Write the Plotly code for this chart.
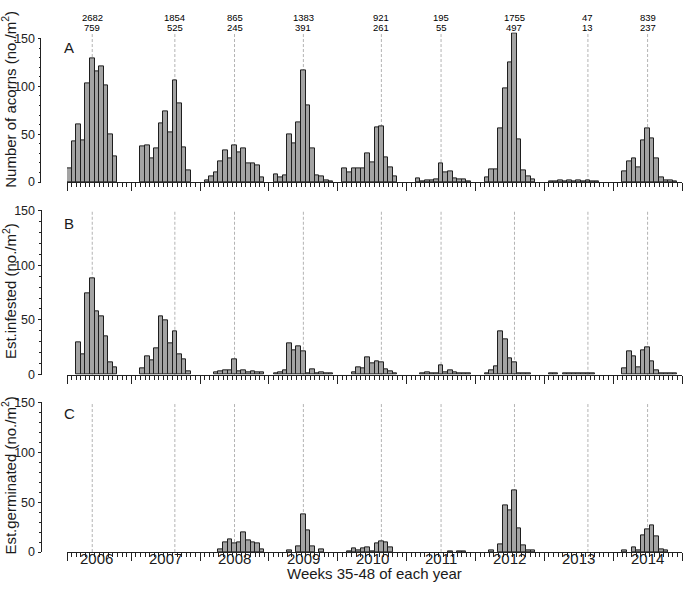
import plotly.graph_objects as go

W, H = 685, 590
FONT = "Arial, Liberation Sans, sans-serif"

YEARS = [2006, 2007, 2008, 2009, 2010, 2011, 2012, 2013, 2014]
WEEKS = list(range(35, 49))  # weeks 35-48

# acorns per m2, one row per year, weeks 35..48
ACORNS = [
    [14, 43, 60, 44, 103, 129, 116, 121, 101, 50, 27, 0, 0, 0],   # 2006
    [0, 37, 38, 25, 35, 61, 74, 52, 106, 82, 36, 12, 0, 0],       # 2007
    [2, 6, 10, 22, 33, 25, 38, 31, 35, 20, 19, 17, 5, 0],         # 2008
    [8, 5, 7, 50, 40, 62, 117, 80, 35, 7, 6, 2, 1, 0],            # 2009
    [14, 10, 14, 14, 14, 30, 21, 57, 58, 26, 15, 6, 0, 0],        # 2010
    [0, 4, 1, 2, 2, 3, 19, 10, 11, 4, 3, 3, 1, 0],                # 2011
    [0, 5, 13, 13, 56, 98, 125, 155, 45, 12, 6, 3, 0, 0],         # 2012
    [1, 1, 2, 1, 2, 1, 2, 1, 2, 1, 1, 0, 0, 0],                   # 2013
    [0, 11, 22, 25, 15, 44, 56, 46, 25, 5, 2, 2, 1, 0],           # 2014
]
INFESTED = [
    [0, 0, 30, 19, 74, 88, 58, 53, 35, 11, 7, 0, 0, 0],
    [0, 6, 17, 13, 24, 53, 50, 29, 40, 19, 14, 3, 0, 0],
    [0, 0, 2, 3, 4, 4, 14, 3, 4, 2, 3, 2, 2, 0],
    [1, 2, 4, 29, 22, 26, 21, 1, 5, 1, 2, 1, 1, 0],
    [0, 0, 2, 7, 6, 16, 10, 12, 11, 5, 3, 1, 0, 0],
    [0, 0, 1, 2, 1, 1, 9, 2, 4, 2, 1, 1, 1, 0],
    [0, 1, 4, 8, 40, 32, 15, 11, 1, 1, 1, 0, 0, 0],
    [1, 1, 0, 1, 1, 1, 1, 1, 1, 1, 0, 0, 0, 0],
    [0, 6, 21, 17, 7, 22, 25, 12, 4, 1, 1, 1, 1, 0],
]
GERMINATED = [
    [0, 0, 0, 0, 0, 0, 0, 0, 0, 0, 0, 0, 0, 0],
    [0, 0, 0, 0, 0, 0, 0, 0, 0, 0, 0, 0, 0, 0],
    [0, 0, 0, 3, 10, 13, 9, 10, 20, 12, 10, 9, 3, 0],
    [0, 0, 0, 2, 0, 6, 38, 22, 6, 0, 3, 0, 0, 0],
    [0, 1, 4, 2, 4, 5, 1, 9, 11, 10, 5, 0, 0, 0],
    [0, 0, 0, 0, 0, 0, 0, 0, 0.5, 0, 0.7, 0.7, 0, 0],
    [0, 0, 1.6, 0, 7.5, 47, 42, 62, 24, 7, 2, 2, 0, 0],
    [0, 0, 0, 0, 0, 0, 0, 0, 0, 0, 0, 0, 0, 0],
    [0, 1.6, 0, 5, 2, 17, 23, 27, 16, 3, 2, 0, 0, 0],
]

PEAK_WEEK = [40, 43, 41, 41, 43, 41, 42, 43, 41]
TOTAL_TOP = [2682, 1854, 865, 1383, 921, 195, 1755, 47, 839]
TOTAL_BOTTOM = [759, 525, 245, 391, 261, 55, 497, 13, 237]

SLOTS = 15  # 14 weeks + one empty slot per year


def xpos(i, week):
    return i * SLOTS + (week - 34) + 0.5


def py(px):
    return 1 - px / H


# axis suffix, data, y title, letter, bottom px, top px, y max, letter y px, title y px
PANELS = [
    ("", ACORNS, "Number of acorns (no./m<sup>2</sup>)", "A", 179.3, 26, 156.4, 41.7, 95),
    ("2", INFESTED, "Est.infested (no./m<sup>2</sup>)", "B", 376.7, 208.3, 150, 221.3, 291),
    ("3", GERMINATED, "Est.germinated (no./m<sup>2</sup>)", "C", 558.3, 405, 150, 416.3, 480),
]

fig = go.Figure()
layout = dict(
    width=W, height=H, margin=dict(l=0, r=0, t=0, b=0),
    paper_bgcolor="white", plot_bgcolor="white",
    font=dict(family=FONT, color="#1a1a1a"),
    showlegend=False, bargap=0,
)
shapes = []
annotations = []
AX = "#222222"

for name, data, ytitle, letter, bot, top, ymax, ly, ty in PANELS:
    xs, ys = [], []
    for i, row in enumerate(data):
        for w, v in zip(WEEKS, row):
            xs.append(xpos(i, w))
            ys.append(v if v else None)
    fig.add_trace(go.Bar(
        x=xs, y=ys, width=1, xaxis="x" + name, yaxis="y" + name,
        marker=dict(color="#a3a3a3", line=dict(color="#1e1e1e", width=1)),
        hoverinfo="x+y",
    ))
    layout["xaxis" + name] = dict(
        domain=[67 / W, 682 / W], range=[1, 135], anchor="y" + name,
        showline=True, linecolor=AX, linewidth=1,
        ticks="outside", tickvals=[1] + [SLOTS * k for k in range(1, 10)],
        ticklen=8, tickcolor=AX, tickwidth=1,
        showticklabels=False, showgrid=False, zeroline=False,
        minor=dict(tickvals=list(range(1, 136)), ticks="outside", ticklen=4,
                   tickcolor=AX, tickwidth=1),
    )
    layout["yaxis" + name] = dict(
        domain=[py(bot), py(top)], range=[0, ymax], anchor="free", position=40.5 / W,
        showline=(ymax == 150), linecolor=AX, linewidth=1,
        ticks="outside", tickvals=[0, 50, 100, 150], ticklen=3, tickcolor=AX,
        tickfont=dict(size=12.5, color="#222"),
        minor=dict(dtick=10, ticks="outside", ticklen=2, tickcolor=AX),
        showgrid=False, zeroline=False,
    )
    if ymax != 150:
        shapes.append(dict(type="line", xref="paper", yref="y" + name,
                           x0=40.5 / W, x1=40.5 / W, y0=0, y1=150,
                           line=dict(color=AX, width=1)))
    for i, wk in enumerate(PEAK_WEEK):
        shapes.append(dict(type="line", xref="x" + name, yref="y" + name + " domain",
                           x0=xpos(i, wk), x1=xpos(i, wk), y0=0, y1=1, layer="below",
                           line=dict(color="#b3b3b3", width=1, dash="3px,2px")))
    annotations.append(dict(text=letter, xref="paper", yref="paper", x=62 / W, y=py(ly),
                            xanchor="left", yanchor="middle", showarrow=False,
                            font=dict(size=15)))
    annotations.append(dict(text=ytitle, xref="paper", yref="paper", x=9 / W, y=py(ty),
                            xanchor="center", yanchor="middle", showarrow=False,
                            textangle=-90, font=dict(size=15)))

for i, yr in enumerate(YEARS):
    annotations.append(dict(text=str(yr), xref="x3", yref="paper", x=i * SLOTS + 7.5,
                            y=py(565), xanchor="center", yanchor="middle",
                            showarrow=False, font=dict(size=15)))
    annotations.append(dict(text=str(TOTAL_TOP[i]), xref="x", yref="paper",
                            x=xpos(i, PEAK_WEEK[i]), y=py(10.3), xanchor="center",
                            yanchor="middle", showarrow=False,
                            font=dict(size=9.5, color="#000")))
    annotations.append(dict(text=str(TOTAL_BOTTOM[i]), xref="x", yref="paper",
                            x=xpos(i, PEAK_WEEK[i]), y=py(20.8), xanchor="center",
                            yanchor="middle", showarrow=False,
                            font=dict(size=9.5, color="#000")))

annotations.append(dict(text="Weeks 35-48 of each year", xref="paper", yref="paper",
                        x=374.5 / W, y=py(580.5), xanchor="center", yanchor="middle",
                        showarrow=False, font=dict(size=15)))

layout["shapes"] = shapes
layout["annotations"] = annotations
fig.update_layout(**layout)
fig.write_html("out.html", config={"displayModeBar": False},
               post_script="document.body.style.margin='0';")
